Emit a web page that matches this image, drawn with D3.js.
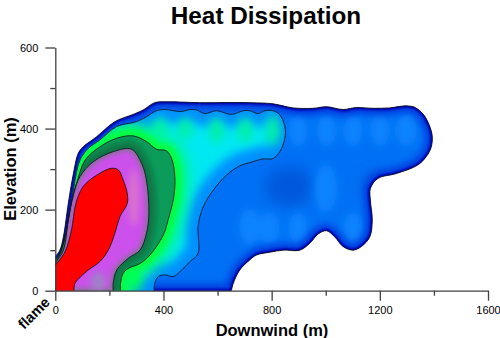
<!DOCTYPE html>
<html>
<head>
<meta charset="utf-8">
<title>Heat Dissipation</title>
<script src="https://cdn.jsdelivr.net/npm/d3@7"></script>
<style>
    html, body { margin: 0; padding: 0; background: #fff; }
    svg { display: block; }
    text { font-family: "Liberation Sans", Arial, sans-serif; fill: #000; }
</style>
</head>
<body>
<div id="graph"></div>
<script>
// contour outlines: [downwind m, elevation m]
var outer_line = [[0,84],[17,100],[30,133],[48,215],[67,289],[85,339],[103,355],[153,380],[220,417],[288,435],[325,446],[368,464],[411,466],[534,464],[719,464],[805,461],[879,451],[953,450],[1003,454],[1064,447],[1113,452],[1175,450],[1236,451],[1298,456],[1330,452],[1360,436],[1382,410],[1394,380],[1388,350],[1365,325],[1335,308],[1261,289],[1193,277],[1165,252],[1165,224],[1172,174],[1163,133],[1132,109],[1101,100],[1064,109],[1033,133],[1003,148],[972,140],[941,117],[904,100],[842,100],[793,95],[744,88],[719,76],[682,51],[658,18],[651,0]];
var cyan_line = [[0,76],[17,92],[36,133],[54,199],[69,257],[91,322],[122,351],[165,372],[227,405],[300,417],[337,429],[374,444],[411,447],[436,444],[467,442],[498,447],[522,446],[553,437],[596,444],[651,435],[695,444],[719,444],[750,437],[775,444],[805,444],[830,434],[849,405],[849,376],[830,343],[805,326],[768,325],[719,316],[682,308],[633,285],[584,248],[547,207],[528,158],[528,92],[498,72],[461,47],[436,35],[405,39],[381,35],[368,18],[365,0]];
var green_line = [[0,76],[11,84],[36,133],[57,207],[79,265],[110,322],[165,355],[227,376],[288,382],[337,368],[374,349],[411,345],[430,326],[442,281],[438,232],[417,174],[399,137],[350,88],[313,67],[270,55],[251,43],[241,18],[241,0]];
var purple_line = [[0,63],[5,72],[30,100],[48,174],[67,240],[91,281],[140,318],[214,343],[282,349],[319,314],[337,273],[346,191],[337,141],[313,100],[270,80],[227,51],[214,18],[214,0]];
var red_line = [[0,63],[36,96],[60,150],[76,215],[103,257],[153,285],[208,302],[233,298],[251,273],[266,240],[266,215],[239,183],[220,141],[196,100],[165,72],[122,51],[73,18],[69,0]];

// lighter and darker patches: [downwind m, elevation m, half width m, half height m]
var blue_spots = [[898,396,36,40],[1003,396,36,40],[1101,396,36,40],[1200,396,36,40],[1298,396,40,40],[1000,252,42,60],[719,158,40,45],[793,154,36,40],[898,154,36,40],[1101,154,36,40]];
var dark_spots = [[867,257,90,50],[1180,270,40,20]];
var mint_spots = [[387,400,28,30],[480,400,28,28],[596,396,28,32],[702,396,28,32],[805,396,26,38]];
var lime_spots = [[290,30,28,28],[340,250,30,60]];
var grey_spots = [[158,22,28,24]];
var pink_spots = [[290,230,22,70]];

var x_ticks = [0, 200, 400, 600, 800, 1000, 1200, 1400, 1600];
var y_ticks = [0, 100, 200, 300, 400, 500, 600];

var svg = d3.select("#graph").append("svg").attr("width", 500).attr("height", 338);

var x = d3.scaleLinear().domain([0, 1600]).range([55.3, 488]);
var y = d3.scaleLinear().domain([0, 600]).range([290.7, 47.5]);

var line = d3.line().x(d => x(d[0])).y(d => y(d[1])).curve(d3.curveCatmullRom.alpha(0.5));

// open curve plus the run back along both axes
function shape(pts) {
    return line(pts) + "L" + x(0) + "," + y(0) + "Z";
}

var defs = svg.append("defs");
[1, 2, 3, 5, 7].forEach(function (s) {
    defs.append("filter")
        .attr("id", "blur" + s)
        .attr("filterUnits", "userSpaceOnUse")
        .attr("x", 0).attr("y", 0).attr("width", 500).attr("height", 338)
        .append("feGaussianBlur").attr("stdDeviation", s);
});
[["clip_outer", outer_line], ["clip_cyan", cyan_line], ["clip_green", green_line], ["clip_purple", purple_line], ["clip_red", red_line]].forEach(function (c) {
    defs.append("clipPath").attr("id", c[0]).append("path").attr("d", shape(c[1]));
});

function spots(parent, list, color, blur) {
    parent.append("g").attr("filter", "url(#" + blur + ")")
        .selectAll("ellipse")
        .data(list)
        .join("ellipse")
        .attr("cx", d => x(d[0]))
        .attr("cy", d => y(d[1]))
        .attr("rx", d => x(d[2]) - x(0))
        .attr("ry", d => y(0) - y(d[3]))
        .attr("fill", color);
}

function rim(parent, pts, color, width, blur) {
    parent.append("path").attr("d", shape(pts))
        .attr("fill", "none").attr("stroke", color).attr("stroke-width", width)
        .attr("filter", "url(#" + blur + ")");
}

// blue body
var body = svg.append("g").attr("clip-path", "url(#clip_outer)");
body.append("path").attr("d", shape(outer_line)).attr("fill", "#0070f4");
spots(body, dark_spots, "#0458dc", "blur7");
spots(body, blue_spots, "#0884ff", "blur5");
rim(body, outer_line, "#0040e0", 14, "blur3");
rim(body, outer_line, "#0000b4", 4, "blur1");

// cyan band
var cyan = svg.append("g").attr("clip-path", "url(#clip_cyan)");
cyan.append("path").attr("d", shape(cyan_line)).attr("fill", "#00e8f2");
rim(cyan, cyan_line, "#0090ff", 26, "blur5");
spots(cyan, mint_spots, "#00f0a8", "blur5");
rim(cyan, green_line, "#00f890", 28, "blur7");
rim(cyan, green_line, "#00ff40", 14, "blur3");
spots(cyan, lime_spots, "#00ff50", "blur5");

// dark green band
var green = svg.append("g").attr("clip-path", "url(#clip_green)");
green.append("path").attr("d", shape(green_line)).attr("fill", "#0c9c5a");
rim(green, purple_line, "#0a7444", 14, "blur3");

// purple band
var purple = svg.append("g").attr("clip-path", "url(#clip_purple)");
purple.append("path").attr("d", shape(purple_line)).attr("fill", "#cc50ec");
rim(purple, purple_line, "#8a7098", 6, "blur2");
spots(purple, pink_spots, "#d870d0", "blur3");
spots(purple, grey_spots, "#a080c8", "blur3");

// red core
svg.append("path").attr("d", shape(red_line)).attr("fill", "#ff0000");

// contour lines
svg.append("g").selectAll("path")
    .data([outer_line, cyan_line, green_line, purple_line, red_line])
    .join("path")
    .attr("d", d => line(d))
    .attr("fill", "none")
    .attr("stroke", "#10101c")
    .attr("stroke-opacity", 0.85)
    .attr("stroke-width", 1);

// axes, labels only on every other tick
var x_axis = d3.axisBottom(x).tickValues(x_ticks).tickSize(10).tickSizeOuter(0)
    .tickFormat(d => d % 400 === 0 ? d : "");
var y_axis = d3.axisLeft(y).tickValues(y_ticks).tickSize(10).tickSizeOuter(0)
    .tickFormat(d => d % 200 === 0 ? d : "");

var gx = svg.append("g").attr("transform", "translate(0," + y(0) + ")").call(x_axis);
var gy = svg.append("g").attr("transform", "translate(" + x(0) + ",0)").call(y_axis);

gx.selectAll(".tick line").filter(d => d % 400 !== 0).attr("y2", 5);
gy.selectAll(".tick line").filter(d => d % 200 !== 0).attr("x2", -5);
[gx, gy].forEach(function (g) {
    g.selectAll("path, line").attr("stroke", "#404040").attr("stroke-width", 1.3);
    g.selectAll("text").attr("font-size", 11).attr("font-family", "Liberation Sans");
});
gx.selectAll("text").attr("y", 16);
gy.selectAll("text").attr("x", -17);

svg.append("text").attr("x", 266).attr("y", 24).attr("text-anchor", "middle")
    .attr("font-size", 24.3).attr("font-weight", "bold").text("Heat Dissipation");
svg.append("text").attr("x", 272).attr("y", 336).attr("text-anchor", "middle")
    .attr("font-size", 16.5).attr("font-weight", "bold").text("Downwind (m)");
svg.append("text").attr("transform", "translate(16,169) rotate(-90)").attr("text-anchor", "middle")
    .attr("font-size", 16.5).attr("font-weight", "bold").text("Elevation (m)");
svg.append("text").attr("transform", "translate(24,330) rotate(-45)")
    .attr("font-size", 14.5).attr("font-weight", "bold").text("flame");
</script>
</body>
</html>
